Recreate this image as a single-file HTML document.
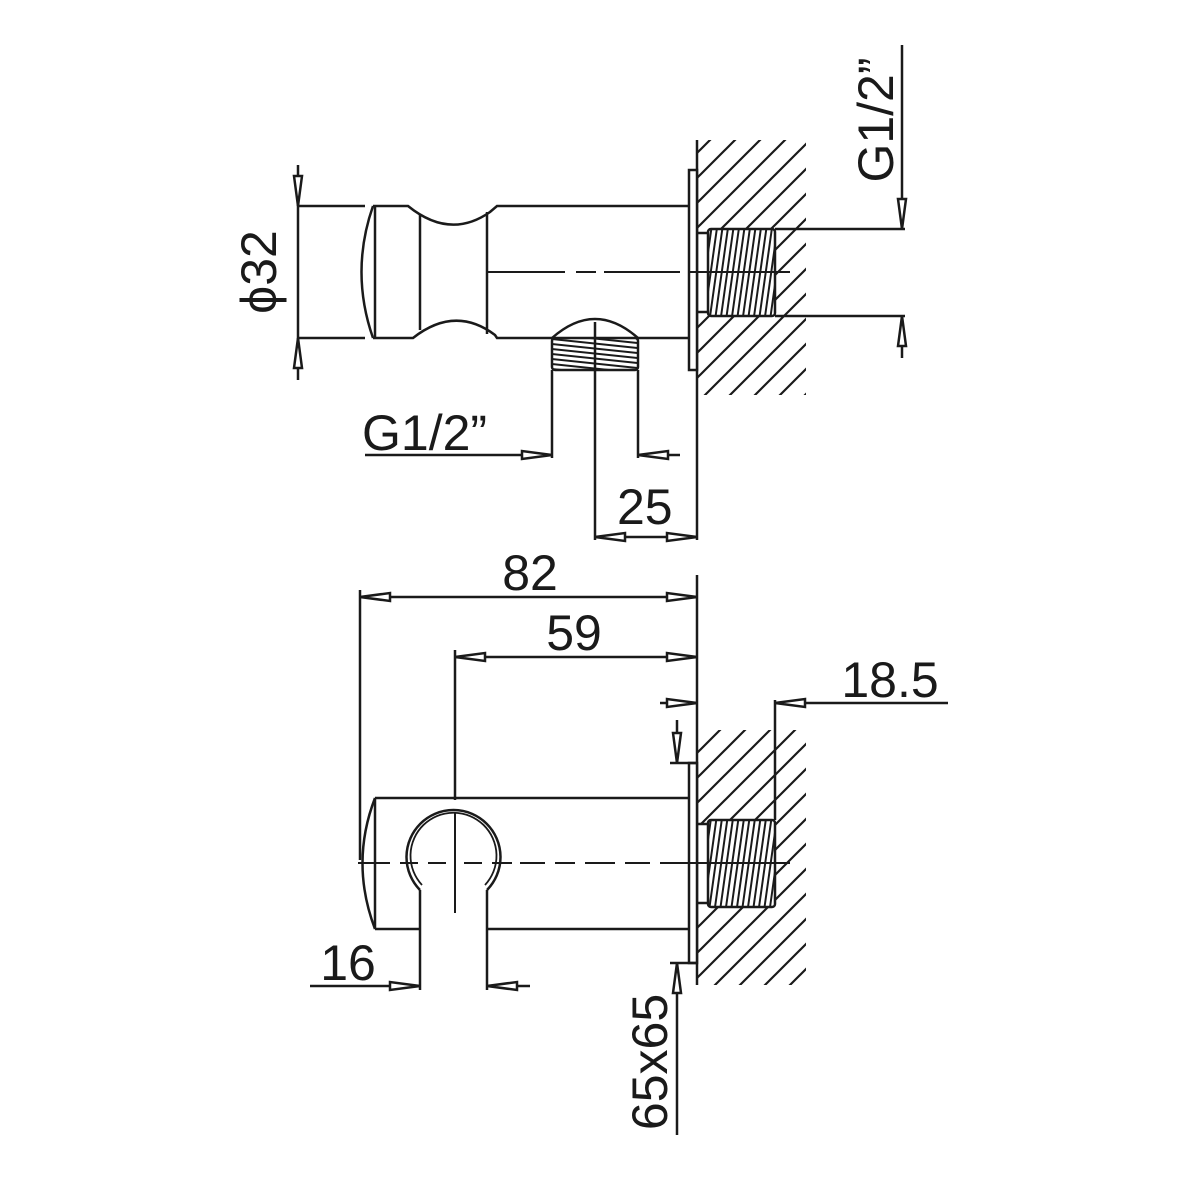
<!DOCTYPE html>
<html><head><meta charset="utf-8"><style>
html,body{margin:0;padding:0;background:#fff}
svg{display:block}
text{font-family:"Liberation Sans","DejaVu Sans",sans-serif;font-size:50px;fill:#1a1a1a}
</style></head><body>
<svg width="1181" height="1181" viewBox="0 0 1181 1181" xmlns="http://www.w3.org/2000/svg">
<defs>
<pattern id="hatch" width="25" height="25" patternUnits="userSpaceOnUse">
<path d="M-2,27 L27,-2 M-2,2 L2,-2 M23,27 L27,23" stroke="#1a1a1a" stroke-width="2.2"/>
</pattern>
<pattern id="vthr" width="5.5" height="100" patternUnits="userSpaceOnUse" patternTransform="skewX(-8)">
<rect width="5.5" height="100" fill="#fff"/><line x1="1" y1="0" x2="1" y2="100" stroke="#1a1a1a" stroke-width="2"/>
</pattern>
<pattern id="hthr" width="100" height="5" patternUnits="userSpaceOnUse" patternTransform="skewY(6)">
<rect width="100" height="5" fill="#fff"/><line x1="0" y1="1" x2="100" y2="1" stroke="#1a1a1a" stroke-width="2"/>
</pattern>
</defs>
<g fill="none" stroke="#1a1a1a" stroke-width="2.5">
<rect x="697" y="140" width="109" height="255" fill="url(#hatch)" stroke="none"/>
<rect x="697" y="233" width="11" height="79" fill="#fff" stroke="none"/>
<line x1="697" y1="140" x2="697" y2="395"/>
<rect x="689" y="170" width="8" height="200" fill="#fff"/>
<path d="M697,233 H708 M697,312 H708"/>
<rect x="708" y="229" width="67" height="87" fill="url(#vthr)" rx="3"/>
<path d="M775,229 H905 M775,316 H905"/>
<path d="M373,206 Q350,272 373,338"/>
<path d="M373,206 H408 Q450,240 490,212 L497,206 H689"/>
<path d="M373,338 H413 Q455,305 495,335 L497,338 H552 M636,338 H689"/>
<path d="M375,206 V338 M420,215 V330 M487,212 V334"/>
<path d="M487,272 H565 M576,272 H596 M604,272 H680 M688,272 H790" stroke-width="2"/>
<path d="M552,338 Q595,300 638,338"/>
<rect x="552" y="338" width="86" height="32" fill="url(#hthr)" rx="3"/>
<path d="M552,370 V458 M638,370 V458 M595,322 V540"/>
<path d="M365,455 H552"/><polygon points="552,455 522,451 522,459" fill="#fff"/>
<path d="M638,455 H680"/><polygon points="638,455 668,451 668,459" fill="#fff"/>
<path d="M697,395 V540"/>
<path d="M595,537 H697"/><polygon points="595,537 625,533 625,541" fill="#fff"/><polygon points="697,537 667,533 667,541" fill="#fff"/>
<path d="M298,165 V380 M298,206 H365 M298,338 H365"/>
<polygon points="298,206 294,176 302,176" fill="#fff"/><polygon points="298,338 294,368 302,368" fill="#fff"/>
<path d="M902,45 V229 M902,316 V358"/>
<polygon points="902,229 898,199 906,199" fill="#fff"/><polygon points="902,316 898,346 906,346" fill="#fff"/>
<rect x="697" y="730" width="109" height="255" fill="url(#hatch)" stroke="none"/>
<rect x="697" y="824" width="11" height="79" fill="#fff" stroke="none"/>
<line x1="697" y1="575" x2="697" y2="985"/>
<rect x="689" y="763" width="8" height="200" fill="#fff"/>
<path d="M697,824 H708 M697,903 H708"/>
<rect x="708" y="820" width="67" height="87" fill="url(#vthr)" rx="3"/>
<path d="M775,700 V820"/>
<path d="M375,798 Q350,863 375,929"/>
<path d="M375,798 H689 M375,929 H420 M487,929 H689 M375,798 V929"/>
<path d="M420,890 A47,47 0 1 1 487,890"/>
<path d="M422,885 A43,43 0 1 1 485,885" stroke-width="1.8"/>
<path d="M420,890 V990 M487,890 V990"/>
<path d="M358,863 H390 M400,863 H418 M428,863 H446 M464,863 H482 M492,863 H512 M520,863 H545 M555,863 H575 M585,863 H615 M625,863 H650 M660,863 H790" stroke-width="2"/>
<path d="M455,813 V913" stroke-width="2"/>
<path d="M360,590 V860 M455,650 V800"/>
<path d="M360,597 H697"/><polygon points="360,597 390,593 390,601" fill="#fff"/><polygon points="697,597 667,593 667,601" fill="#fff"/>
<path d="M455,657 H697"/><polygon points="455,657 485,653 485,661" fill="#fff"/><polygon points="697,657 667,653 667,661" fill="#fff"/>
<path d="M660,703 H697"/><polygon points="697,703 667,699 667,707" fill="#fff"/>
<path d="M775,703 H948"/><polygon points="775,703 805,699 805,707" fill="#fff"/>
<path d="M677,720 V763 M670,763 H697"/><polygon points="677,763 673,733 681,733" fill="#fff"/>
<path d="M677,963 V1135 M670,963 H697"/><polygon points="677,963 673,993 681,993" fill="#fff"/>
<path d="M310,986 H420"/><polygon points="420,986 390,982 390,990" fill="#fff"/>
<path d="M487,986 H530"/><polygon points="487,986 517,982 517,990" fill="#fff"/>
</g>
<text x="362" y="450">G1/2”</text>
<text x="617" y="524">25</text>
<text transform="translate(276,272) rotate(-90)" text-anchor="middle">ϕ32</text>
<text transform="translate(893,120) rotate(-90)" text-anchor="middle">G1/2”</text>
<text x="530" y="590" text-anchor="middle">82</text>
<text x="574" y="650" text-anchor="middle">59</text>
<text x="890" y="697" text-anchor="middle">18.5</text>
<text x="348" y="980" text-anchor="middle">16</text>
<text transform="translate(667,1062) rotate(-90)" text-anchor="middle">65x65</text>
</svg>
</body></html>
